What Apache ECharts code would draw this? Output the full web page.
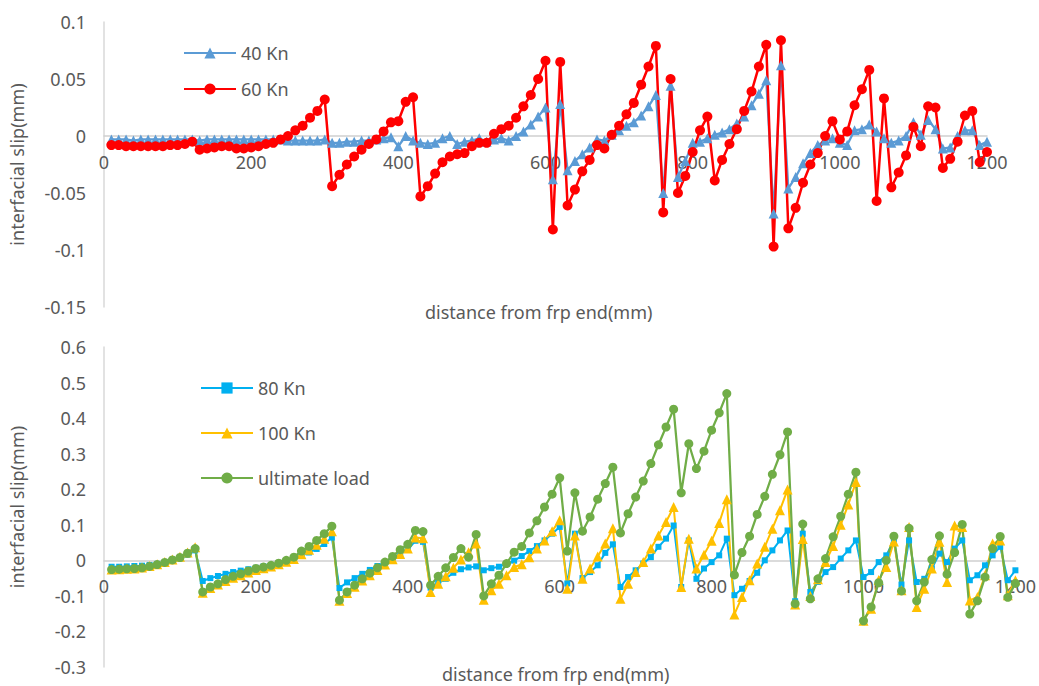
<!DOCTYPE html>
<html>
<head>
<meta charset="utf-8">
<title>Interfacial slip along the FRP</title>
<script src="https://cdn.jsdelivr.net/npm/echarts/dist/echarts.min.js"></script>
<style>
  html, body { margin: 0; padding: 0; background: #ffffff; }
  #chart { width: 1039px; height: 686px; }
</style>
</head>
<body>
<div id="chart"></div>
<script>
// Distance of each measuring node from the FRP end (mm)
const distanceMm = [
  10, 20, 30, 40, 50, 60, 70, 80, 90, 100,
  110, 120, 130, 140, 150, 160, 170, 180, 190, 200,
  210, 220, 230, 240, 250, 260, 270, 280, 290, 300,
  310, 320, 330, 340, 350, 360, 370, 380, 390, 400,
  410, 420, 430, 440, 450, 460, 470, 480, 490, 500,
  510, 520, 530, 540, 550, 560, 570, 580, 590, 600,
  610, 620, 630, 640, 650, 660, 670, 680, 690, 700,
  710, 720, 730, 740, 750, 760, 770, 780, 790, 800,
  810, 820, 830, 840, 850, 860, 870, 880, 890, 900,
  910, 920, 930, 940, 950, 960, 970, 980, 990, 1000,
  1010, 1020, 1030, 1040, 1050, 1060, 1070, 1080, 1090, 1100,
  1110, 1120, 1130, 1140, 1150, 1160, 1170, 1180, 1190, 1200
];

// Interfacial slip (mm) at 40 kN
const slip40 = [
  -0.003, -0.003, -0.003, -0.004, -0.003, -0.003, -0.003, -0.003, -0.003, -0.003,
  -0.003, -0.003, -0.004, -0.003, -0.003, -0.003, -0.003, -0.003, -0.003, -0.003,
  -0.003, -0.003, -0.003, -0.003, -0.004, -0.004, -0.004, -0.004, -0.004, -0.003,
  -0.006, -0.006, -0.005, -0.005, -0.004, -0.004, -0.003, -0.002, -0.001, -0.009,
  0.000, -0.004, -0.006, -0.007, -0.006, -0.002, 0.000, -0.007, -0.005, -0.004,
  -0.002, -0.005, -0.003, -0.002, -0.004, 0.000, 0.004, 0.010, 0.017, 0.025,
  -0.038, 0.028, -0.030, -0.022, -0.016, -0.010, -0.003, -0.004, 0.001, 0.005,
  0.009, 0.012, 0.018, 0.026, 0.036, -0.050, 0.044, -0.036, -0.022, -0.006,
  -0.005, -0.002, 0.001, 0.003, 0.006, 0.011, 0.017, 0.027, 0.037, 0.049,
  -0.068, 0.062, -0.046, -0.036, -0.024, -0.015, -0.008, -0.004, -0.002, -0.006,
  -0.008, 0.005, 0.006, 0.010, 0.004, -0.002, -0.006, -0.004, 0.000, 0.012,
  0.001, 0.014, 0.006, -0.011, -0.010, 0.000, 0.005, 0.005, -0.008, -0.005
];

// Interfacial slip (mm) at 60 kN
const slip60 = [
  -0.008, -0.008, -0.009, -0.009, -0.009, -0.009, -0.009, -0.009, -0.008, -0.008,
  -0.007, -0.005, -0.012, -0.011, -0.010, -0.009, -0.009, -0.011, -0.011, -0.010,
  -0.009, -0.007, -0.006, -0.003, 0.000, 0.005, 0.009, 0.016, 0.022, 0.032,
  -0.044, -0.034, -0.025, -0.018, -0.012, -0.007, -0.003, 0.004, 0.012, 0.013,
  0.030, 0.034, -0.053, -0.044, -0.033, -0.023, -0.018, -0.016, -0.015, -0.009,
  -0.006, -0.006, 0.002, 0.006, 0.009, 0.016, 0.026, 0.036, 0.050, 0.066,
  -0.082, 0.065, -0.061, -0.047, -0.031, -0.021, -0.008, -0.011, 0.001, 0.009,
  0.019, 0.029, 0.045, 0.061, 0.079, -0.067, 0.050, -0.050, -0.035, -0.014,
  0.005, 0.017, -0.039, -0.021, -0.007, 0.006, 0.022, 0.039, 0.061, 0.080,
  -0.097, 0.084, -0.081, -0.063, -0.041, -0.025, -0.015, 0.000, 0.013, -0.003,
  0.004, 0.027, 0.041, 0.058, -0.057, 0.033, -0.045, -0.032, -0.017, 0.008,
  -0.009, 0.026, 0.025, -0.028, -0.020, -0.005, 0.018, 0.022, -0.023, -0.014
];

// Interfacial slip (mm) at 80 kN
const slip80 = [
  -0.018, -0.018, -0.017, -0.016, -0.015, -0.013, -0.010, -0.006, -0.001, 0.005,
  0.015, 0.028, -0.058, -0.050, -0.044, -0.038, -0.033, -0.029, -0.025, -0.021,
  -0.017, -0.013, -0.008, -0.002, 0.005, 0.013, 0.022, 0.032, 0.046, 0.064,
  -0.078, -0.062, -0.050, -0.038, -0.027, -0.016, -0.006, 0.006, 0.018, 0.030,
  0.055, 0.052, -0.077, -0.064, -0.052, -0.035, -0.025, -0.020, -0.017, -0.028,
  -0.022, -0.018, -0.010, -0.001, 0.012, 0.026, 0.040, 0.056, 0.075, 0.094,
  -0.065, 0.075, -0.050, -0.033, -0.014, 0.021, 0.045, -0.075, -0.047, -0.028,
  -0.009, 0.009, 0.038, 0.061, 0.098, -0.075, 0.056, -0.052, -0.023, -0.005,
  0.014, 0.061, -0.098, -0.080, -0.058, -0.035, 0.000, 0.028, 0.056, 0.084,
  -0.115, 0.075, -0.089, -0.061, -0.033, -0.019, 0.005, 0.028, 0.056, -0.047,
  -0.033, -0.005, 0.014, 0.056, -0.068, 0.056, -0.061, -0.052, -0.023, 0.019,
  -0.005, 0.033, 0.056, -0.056, -0.042, -0.014, 0.014, 0.038, -0.056, -0.028
];

// Interfacial slip (mm) at 100 kN
const slip100 = [
  -0.026, -0.025, -0.024, -0.023, -0.020, -0.016, -0.011, -0.005, 0.002, 0.010,
  0.022, 0.037, -0.091, -0.078, -0.068, -0.058, -0.049, -0.042, -0.034, -0.027,
  -0.022, -0.017, -0.011, -0.004, 0.004, 0.017, 0.030, 0.044, 0.061, 0.082,
  -0.114, -0.092, -0.074, -0.057, -0.042, -0.027, -0.012, 0.003, 0.018, 0.033,
  0.064, 0.062, -0.089, -0.066, -0.045, -0.021, 0.002, 0.023, 0.047, -0.111,
  -0.084, -0.066, -0.042, -0.019, -0.011, 0.009, 0.033, 0.056, 0.082, 0.113,
  -0.080, 0.070, -0.052, -0.023, 0.011, 0.047, 0.090, -0.108, -0.066, -0.033,
  -0.005, 0.033, 0.070, 0.108, 0.150, -0.075, 0.061, -0.023, 0.016, 0.055,
  0.105, 0.172, -0.152, -0.103, -0.056, -0.009, 0.038, 0.089, 0.141, 0.199,
  -0.124, 0.060, -0.100, -0.053, -0.005, 0.040, 0.100, 0.157, 0.220, -0.170,
  -0.136, -0.055, -0.019, 0.053, -0.084, 0.094, -0.131, -0.080, -0.023, 0.052,
  -0.061, 0.098, 0.094, -0.113, -0.103, -0.042, 0.047, 0.056, -0.098, -0.056
];

// Interfacial slip (mm) at ultimate load
const slipUltimate = [
  -0.026, -0.025, -0.024, -0.023, -0.021, -0.017, -0.012, -0.006, 0.001, 0.008,
  0.020, 0.033, -0.089, -0.075, -0.066, -0.054, -0.045, -0.038, -0.030, -0.023,
  -0.019, -0.014, -0.008, 0.000, 0.009, 0.026, 0.039, 0.056, 0.075, 0.096,
  -0.112, -0.089, -0.070, -0.052, -0.036, -0.021, -0.005, 0.011, 0.030, 0.045,
  0.084, 0.081, -0.070, -0.045, -0.021, 0.008, 0.033, 0.009, 0.073, -0.100,
  -0.066, -0.042, -0.009, 0.023, 0.039, 0.077, 0.111, 0.150, 0.186, 0.232,
  0.026, 0.190, 0.082, 0.122, 0.172, 0.216, 0.262, 0.077, 0.131, 0.178,
  0.223, 0.272, 0.325, 0.375, 0.425, 0.190, 0.328, 0.258, 0.307, 0.366,
  0.415, 0.469, -0.041, 0.022, 0.068, 0.129, 0.180, 0.242, 0.297, 0.361,
  -0.122, 0.102, -0.108, -0.052, 0.005, 0.066, 0.124, 0.186, 0.248, -0.170,
  -0.131, -0.063, 0.000, 0.068, -0.086, 0.090, -0.114, -0.061, 0.002, 0.069,
  -0.039, 0.022, 0.101, -0.151, -0.114, -0.047, 0.033, 0.067, -0.104, -0.065
];

const xTitle = 'distance from frp end(mm)';
const yTitle = 'interfacial slip(mm)';

const FONT = '"Noto Sans", "Open Sans", sans-serif';
const TEXT = '#595959';

// Panel frames: pixel box of each plot area and its slip range
const panels = [
  { left: 100, top: 22, width: 887, height: 285, min: -0.15, max: 0.1, interval: 0.05 },
  { left: 103, top: 347, width: 915, height: 320, min: -0.3, max: 0.6, interval: 0.1 }
];

function pairs(xs, ys) {
  return xs.map((x, i) => [x, ys[i]]);
}

// The distance axis runs along slip = 0, so shift it up from the grid bottom
function zeroOffset(p) {
  return -p.height * (0 - p.min) / (p.max - p.min);
}

function xAxisFor(gridIndex) {
  const p = panels[gridIndex];
  return {
    gridIndex, type: 'value', min: 0, max: 1200, interval: 200,
    position: 'bottom', offset: zeroOffset(p),
    axisLine: { onZero: false, lineStyle: { color: '#cfcfcf', width: 1.5 } },
    axisTick: { show: false },
    splitLine: { show: false },
    axisLabel: {
      color: TEXT, fontSize: 18, fontFamily: FONT, margin: 17,
      formatter: (v) => String(v)
    }
  };
}

function yAxisFor(gridIndex) {
  const p = panels[gridIndex];
  return {
    gridIndex, type: 'value', min: p.min, max: p.max, interval: p.interval,
    name: yTitle, nameLocation: 'middle', nameRotate: 90, nameGap: 78,
    nameTextStyle: { color: TEXT, fontSize: 18, fontFamily: FONT },
    axisLine: { show: true, onZero: false, lineStyle: { color: '#d9d9d9', width: 1.5 } },
    axisTick: { show: false },
    splitLine: { show: false },
    axisLabel: { color: TEXT, fontSize: 18, fontFamily: FONT, margin: 18 }
  };
}

function lineSeries(name, grid, ys, symbol, size, color, width) {
  return {
    name, type: 'line', xAxisIndex: grid, yAxisIndex: grid,
    data: pairs(distanceMm, ys),
    symbol, symbolSize: size, showSymbol: true,
    lineStyle: { color, width },
    itemStyle: { color, borderWidth: 0 },
    emphasis: { disabled: true },
    animation: false
  };
}

const legendText = { color: TEXT, fontSize: 18, fontFamily: FONT };

const option = {
  animation: false,
  backgroundColor: '#ffffff',
  textStyle: { fontFamily: FONT },
  grid: panels.map(p => ({ left: p.left, top: p.top, width: p.width, height: p.height })),
  xAxis: [xAxisFor(0), xAxisFor(1)],
  yAxis: [yAxisFor(0), yAxisFor(1)],
  legend: [
    {
      data: ['40 Kn', '60 Kn'], orient: 'vertical', left: 178, top: 39,
      itemWidth: 52, itemHeight: 14, itemGap: 18, textStyle: legendText
    },
    {
      data: ['80 Kn', '100 Kn', 'ultimate load'], orient: 'vertical', left: 195, top: 374,
      itemWidth: 52, itemHeight: 14, itemGap: 27, textStyle: legendText
    }
  ],
  graphic: [
    {
      type: 'text', left: 543 - 118, top: 303,
      style: { text: xTitle, fill: TEXT, font: '18px ' + FONT }
    },
    {
      type: 'text', left: 560 - 118, top: 665,
      style: { text: xTitle, fill: TEXT, font: '18px ' + FONT }
    }
  ],
  series: [
    lineSeries('40 Kn', 0, slip40, 'triangle', 10, '#5B9BD5', 2.25),
    lineSeries('60 Kn', 0, slip60, 'circle', 10, '#FF0000', 2.5),
    lineSeries('80 Kn', 1, slip80, 'rect', 6, '#00B0F0', 2),
    lineSeries('100 Kn', 1, slip100, 'triangle', 10, '#FFC000', 2),
    lineSeries('ultimate load', 1, slipUltimate, 'circle', 9, '#70AD47', 2.25)
  ]
};

const chart = echarts.init(document.getElementById('chart'), null, { renderer: 'svg' });
chart.setOption(option);
</script>
</body>
</html>
